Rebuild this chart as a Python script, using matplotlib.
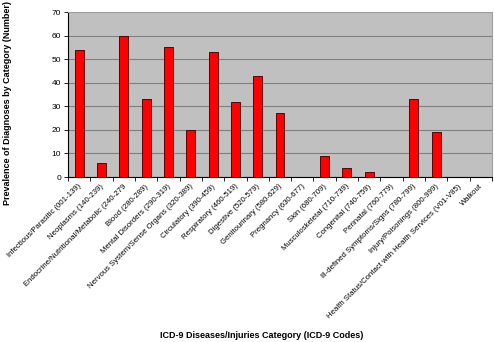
import matplotlib
matplotlib.use("Agg")
import matplotlib.pyplot as plt
import numpy as np

categories = [
    "Infectious/Parasitic (001-139)",
    "Neoplasms (140-239)",
    "Endocrine/Nutritional/Metabolic (240-279",
    "Blood (280-289)",
    "Mental Disorders (290-319)",
    "Nervous System/Sense Organs (320-389)",
    "Circulatory (390-459)",
    "Respiratory (460-519)",
    "Digestive (520-579)",
    "Genitourinary (580-629)",
    "Pregnancy (630-677)",
    "Skin (680-709)",
    "Musculoskeletal (710-739)",
    "Congenital (740-759)",
    "Perinatal (760-779)",
    "Ill-defined Symptoms/Signs (780-799)",
    "Injury/Poisonings (800-999)",
    "Health Status/Contact with Health Services (V01-V85)",
    "Walkout",
]
values = [54, 6, 60, 33, 55, 20, 53, 32, 43, 27, 0, 9, 4, 2, 0, 33, 19, 0, 0]
yticks = [0, 10, 20, 30, 40, 50, 60, 70]

plt.rcParams['font.family'] = ['Liberation Sans', 'DejaVu Sans']
fig = plt.figure(figsize=(4.94, 3.42), dpi=100)
ax = fig.add_axes([68/494, 1-177/342, (492-68)/494, (177-12)/342])
ax.set_facecolor('#C0C0C0')
x = np.arange(len(categories))
ax.bar(x, values, width=0.4, color='#FF0000', edgecolor='#600000', linewidth=0.7, zorder=3)
ax.set_xlim(-0.5, len(categories)-0.5)
ax.set_ylim(0, 70)
ax.set_yticks(yticks)
ax.yaxis.grid(True, color='#808080', linewidth=0.8, zorder=1)
ax.tick_params(axis='y', labelsize=6, length=3, width=0.6, pad=2)
ax.set_xticks(np.arange(len(categories)+1)-0.5, minor=False)
ax.set_xticklabels([])
ax.tick_params(axis='x', length=3, width=0.6)
for i, c in enumerate(categories):
    ax.text(i-0.05, -2.5, c, rotation=45, ha='right', va='top', fontsize=5.6,
            rotation_mode='anchor', transform=ax.transData, clip_on=False)
for s in ['top', 'right']:
    ax.spines[s].set_color('#A0A0A0')
for s in ['left', 'bottom']:
    ax.spines[s].set_color('black')
    ax.spines[s].set_linewidth(0.8)
fig.text(8/494, 1-103/342, "Prevalence of Diagnoses by Category (Number)", rotation=90,
         ha='center', va='center', fontsize=6.5, fontweight='bold')
fig.text(262/494, 1-335/342, "ICD-9 Diseases/Injuries Category (ICD-9 Codes)",
         ha='center', va='center', fontsize=6.5, fontweight='bold')
fig.savefig("out.png", dpi=100)
